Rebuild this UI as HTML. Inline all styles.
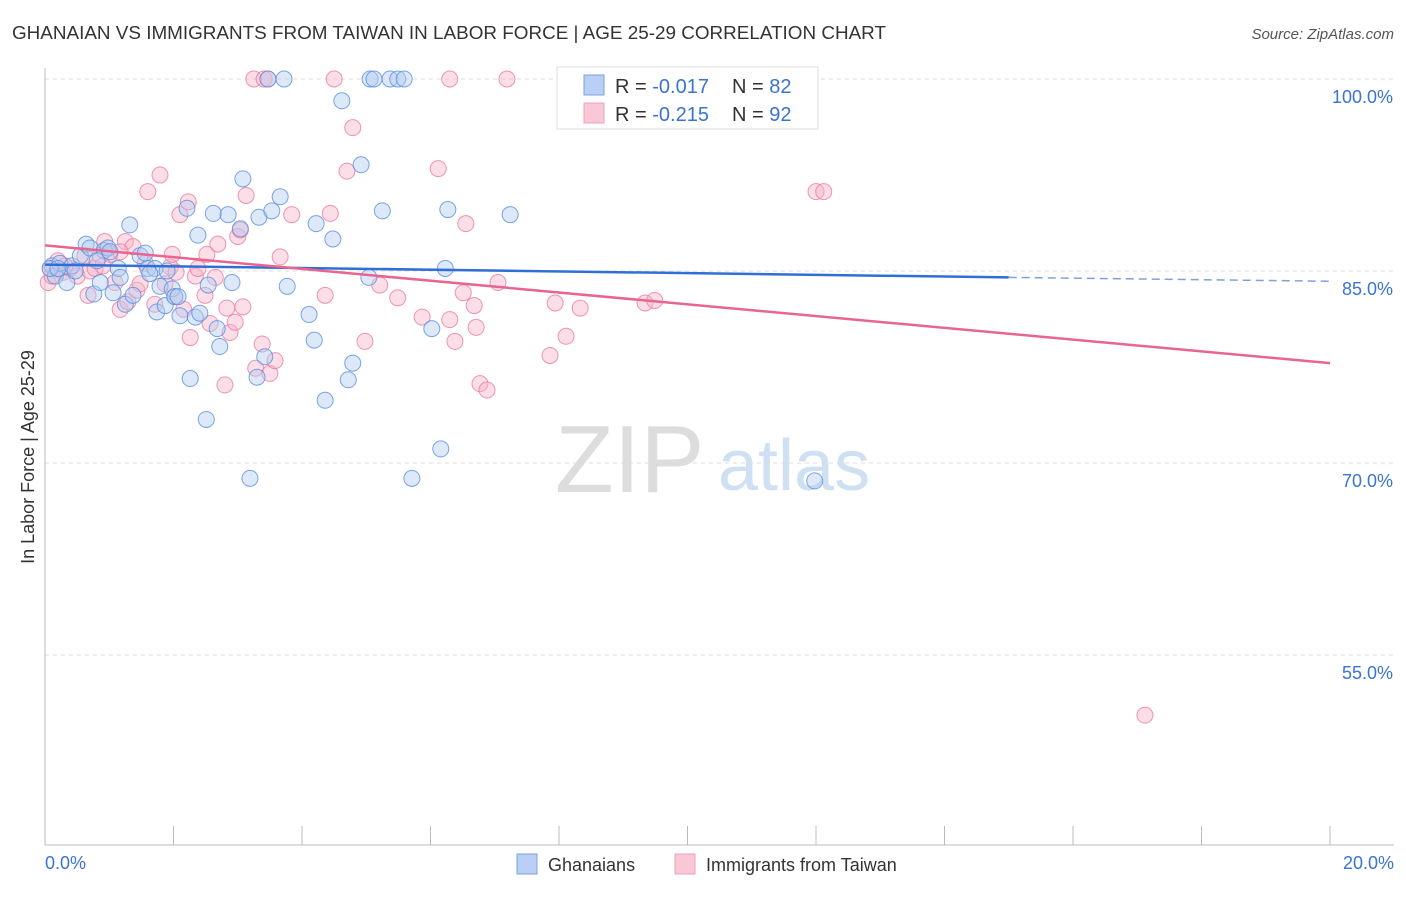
<!DOCTYPE html>
<html><head><meta charset="utf-8"><style>
body{margin:0;background:#fff;font-family:"Liberation Sans",sans-serif;}
svg text{font-family:"Liberation Sans",sans-serif;}
</style></head><body>
<svg id="chart" width="1406" height="892">
<text x="12" y="39" font-size="18" fill="#333" textLength="874" lengthAdjust="spacingAndGlyphs">GHANAIAN VS IMMIGRANTS FROM TAIWAN IN LABOR FORCE | AGE 25-29 CORRELATION CHART</text>
<text x="1394" y="39" font-size="15" fill="#555" font-style="italic" text-anchor="end">Source: ZipAtlas.com</text>
<text x="555" y="492" font-size="96" fill="#ddd" font-family="Liberation Serif">ZIP</text>
<text x="718" y="490" font-size="72" fill="#cfe0f3">atlas</text>
<g id="grid"></g><g id="pts"></g><g id="trend"></g>
<text transform="translate(34,457) rotate(-90)" font-size="18" fill="#333" text-anchor="middle">In Labor Force | Age 25-29</text>
<text x="45" y="869" font-size="18" fill="#3b73d0">0.0%</text>
<text x="1394" y="869" font-size="18" fill="#3b73d0" text-anchor="end">20.0%</text>
<g>
<rect x="557" y="67" width="261" height="62" fill="#fff" stroke="#ddd"/>
<rect x="584" y="75" width="20" height="20" fill="#b9cff3" stroke="#7ea2e0"/>
<rect x="584" y="103" width="20" height="20" fill="#f9c7d6" stroke="#f0a0b8"/>
<text x="615" y="93" font-size="20" fill="#333">R = <tspan fill="#3b73d0">-0.017</tspan><tspan x="732">N = </tspan><tspan fill="#3b73d0">82</tspan></text>
<text x="615" y="121" font-size="20" fill="#333">R = <tspan fill="#3b73d0"> -0.215</tspan><tspan x="732">N = </tspan><tspan fill="#3b73d0">92</tspan></text>
</g>
<g>
<rect x="517" y="854" width="20" height="20" fill="#b9cff3" stroke="#7ea2e0"/>
<text x="548" y="871" font-size="18" fill="#333">Ghanaians</text>
<rect x="675" y="854" width="20" height="20" fill="#f9c7d6" stroke="#f0a0b8"/>
<text x="706" y="871" font-size="18" fill="#333">Immigrants from Taiwan</text>
</g>
</svg>
<script>
const yTicks=[100,85,70,55];
const yTickLabels=["100.0%","85.0%","70.0%","55.0%"];
const xTicks=[0,2,4,6,8,10,12,14,16,18,20];
const blueX=[0.11,0.16,0.23,0.34,0.42,0.55,0.64,0.70,0.76,0.86,0.92,0.98,1.06,1.14,1.25,1.32,1.37,1.48,1.56,1.60,1.71,1.74,1.79,1.87,1.90,1.98,2.02,2.10,2.21,2.26,2.34,2.38,2.41,2.51,2.54,2.62,2.68,2.72,2.85,2.91,3.04,3.08,3.19,3.30,3.33,3.42,3.47,3.53,3.66,3.72,3.77,4.11,4.19,4.22,4.36,4.48,4.62,4.72,4.79,4.92,5.04,5.06,5.12,5.25,5.37,5.49,5.59,5.71,6.02,6.16,6.23,6.27,7.24,11.98,0.08,0.20,0.47,1.17,0.81,2.07,1.63,1.01];
const blueY=[85.4,84.6,85.6,84.1,85.4,86.2,87.1,86.8,83.2,84.1,86.6,86.8,83.3,85.2,82.4,88.6,83.1,86.2,86.4,85.2,85.2,81.8,83.8,82.3,85.0,83.6,83.0,81.5,89.9,76.6,81.4,87.8,81.7,73.4,83.9,89.5,80.5,79.1,89.4,84.1,88.3,92.2,68.8,76.7,89.2,78.3,100,89.7,90.8,100,83.8,81.6,79.6,88.7,74.9,87.5,98.3,76.5,77.8,93.3,84.5,100,100,89.7,100,100,100,68.8,80.5,71.1,85.2,89.8,89.4,68.6,85.2,85.2,85.0,84.5,85.8,83.0,84.8,86.5];
const pinkX=[0.05,0.11,0.20,0.28,0.39,0.50,0.62,0.70,0.78,0.86,0.93,1.01,1.09,1.17,1.25,1.29,1.37,1.43,1.48,1.56,1.60,1.71,1.79,1.87,1.95,1.98,2.04,2.10,2.16,2.23,2.26,2.34,2.38,2.49,2.52,2.57,2.65,2.69,2.80,2.83,2.88,2.96,3.00,3.04,3.08,3.13,3.25,3.28,3.38,3.41,3.47,3.50,3.58,3.66,3.84,4.36,4.44,4.50,4.70,4.79,4.98,5.21,5.49,5.87,6.12,6.30,6.30,6.38,6.51,6.55,6.68,6.71,6.77,6.88,7.05,7.19,7.86,7.94,8.11,8.33,9.34,9.49,12.00,12.12,17.12,0.08,0.31,0.67,0.90,2.02,1.17];
const pinkY=[84.1,84.6,85.8,84.9,85.2,84.6,86.2,85.0,85.2,86.2,87.3,86.3,84.1,82.0,87.3,82.6,86.9,83.5,84.0,85.6,91.2,82.4,92.5,84.0,85.3,86.3,84.9,89.4,82.0,90.4,79.8,84.6,85.2,83.1,86.3,80.9,84.5,87.1,76.1,82.1,80.2,81.0,87.7,88.2,82.2,90.9,100,77.4,79.3,100,100,77.0,78.0,86.1,89.4,83.1,89.5,100,92.8,96.2,79.5,83.9,82.9,81.4,93.0,81.2,100,79.5,83.3,88.7,82.3,80.6,76.2,75.7,84.1,100,78.4,82.5,79.9,82.1,82.5,82.7,91.2,91.2,50.3,85.2,85.4,83.1,85.4,83.0,86.5];
const blueTrend=[[0,85.5],[15,84.5],[20,84.2]];
const pinkTrend=[[0,87.0],[20,77.8]];
const NS="http://www.w3.org/2000/svg";
const X=v=>45+v/20*1285;
const Y=v=>79+(100-v)*12.8;
function mk(t,a,parent){const e=document.createElementNS(NS,t);for(const k in a)e.setAttribute(k,a[k]);document.getElementById(parent).appendChild(e);return e;}
yTicks.forEach((t,i)=>{
 const l=mk('line',{x1:45,x2:1394,y1:Y(t),y2:Y(t),stroke:'#ddd','stroke-dasharray':'4,4'},'grid');
 
 
 const tx=mk('text',{x:1393,y:Y(t)+24,'font-size':18,fill:'#3b73d0','text-anchor':'end'},'grid');
 tx.textContent=yTickLabels[i];
 
 
});
const ax=mk('line',{x1:45,x2:45,y1:68,y2:845,stroke:'#bbb'},'grid');


const bx=mk('line',{x1:45,x2:1394,y1:845,y2:845,stroke:'#bbb'},'grid');


xTicks.forEach(t=>{
 const l=mk('line',{x1:X(t),x2:X(t),y1:826,y2:845,stroke:'#bbb'},'grid');
 
 
});
function pts(xs,ys,fill,stroke,name){xs.forEach((x,i)=>{
 const c=mk('circle',{cx:X(x),cy:Y(ys[i]),r:8,fill:fill,'fill-opacity':0.45,stroke:stroke,'stroke-opacity':0.8,'stroke-width':1},'pts');
 
 
});}
pts(pinkX,pinkY,'#f7b6c9','#ec7c9d','point-taiwan');
pts(blueX,blueY,'#b4cdf2','#5a8ee0','point-ghanaian');
const b1=mk('line',{x1:X(blueTrend[0][0]),y1:Y(blueTrend[0][1]),x2:X(blueTrend[1][0]),y2:Y(blueTrend[1][1]),stroke:'#2f6fd6','stroke-width':2.5},'trend');


const b2=mk('line',{x1:X(blueTrend[1][0]),y1:Y(blueTrend[1][1]),x2:X(blueTrend[2][0]),y2:Y(blueTrend[2][1]),stroke:'#7ea2e0','stroke-width':1.5,'stroke-dasharray':'8,5'},'trend');


const p1=mk('line',{x1:X(pinkTrend[0][0]),y1:Y(pinkTrend[0][1]),x2:X(pinkTrend[1][0]),y2:Y(pinkTrend[1][1]),stroke:'#e8658f','stroke-width':2.5},'trend');


</script>
</body></html>
